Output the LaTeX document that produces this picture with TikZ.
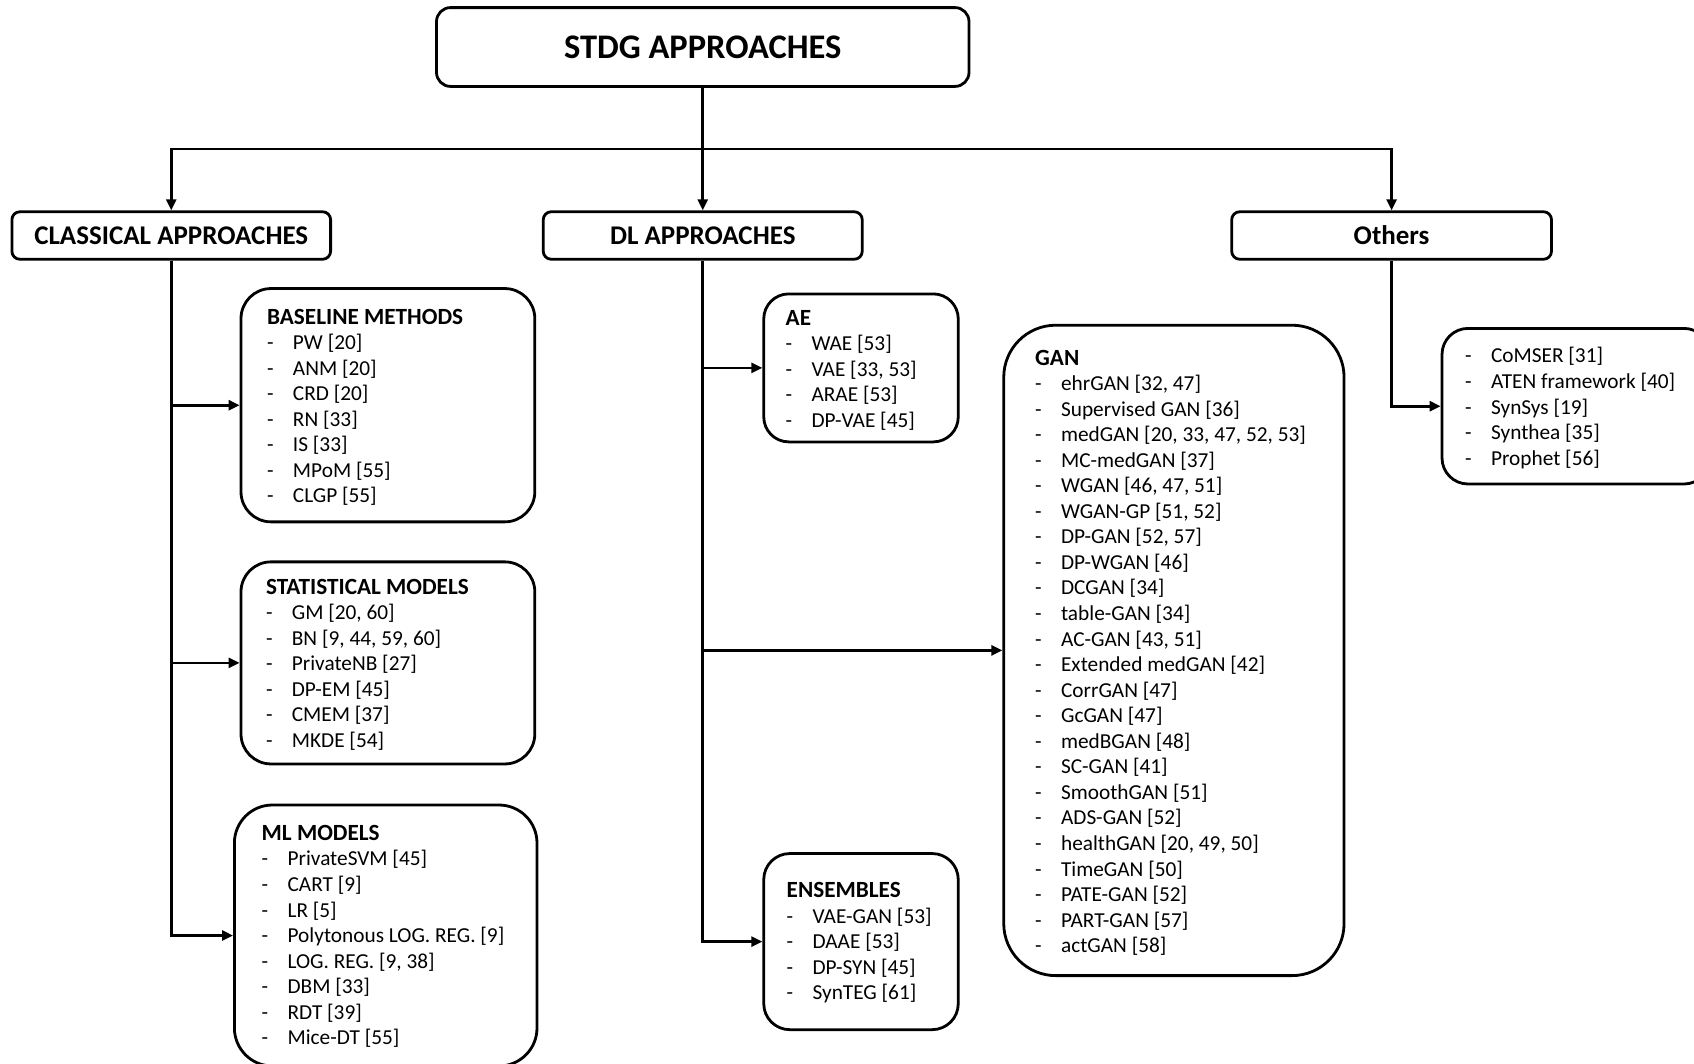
\documentclass[tikz,border=0pt]{standalone}
\usepackage{fontspec}
\setmainfont{Carlito}
\usetikzlibrary{arrows.meta}
\newcommand\itm[1]{\makebox[25.9pt][l]{-}#1}
\newcommand\hd[1]{{\fontsize{23.2}{25.55}\selectfont\bfseries #1}}
\newcommand\lst[1]{\parbox[t]{420pt}{\raggedright\fontsize{21.3}{25.55}\selectfont #1}}
\tikzset{
  box/.style={draw, line width=2.8pt, inner sep=0pt},
  txt/.style={anchor=base west, inner sep=0pt},
  arr/.style={line width=2.6pt, -{Triangle[length=11pt,width=10pt]}},
  ln/.style={line width=3.4pt},
}
\begin{document}
\begin{tikzpicture}[x=1pt,y=-1pt]
\useasboundingbox (0,0) rectangle (1694,1063);
\clip (0,0) rectangle (1694,1063);
\fill[white] (0,0) rectangle (1694,1063);

% top
\node[box, rounded corners=14pt, minimum width=532.5pt, minimum height=78.8pt,
  font=\fontsize{34.5}{40}\selectfont\bfseries] (top) at (702.75,47) {STDG APPROACHES};

% level 2
\node[box, rounded corners=8pt, minimum width=318.7pt, minimum height=47.5pt,
  font=\fontsize{27}{30}\selectfont\bfseries] (cls) at (171.25,235.5) {CLASSICAL APPROACHES};
\node[box, rounded corners=8pt, minimum width=319pt, minimum height=47.5pt,
  font=\fontsize{27}{30}\selectfont\bfseries] (dl) at (702.75,235.5) {DL APPROACHES};
\node[box, rounded corners=8pt, minimum width=319.8pt, minimum height=47.5pt,
  font=\fontsize{27}{30}\selectfont\bfseries] (oth) at (1391.6,235.5) {Others};

% classical children
\node[box, rounded corners=30pt, minimum width=293.8pt, minimum height=233.3pt] (base) at (387.9,405.2) {};
\node[box, rounded corners=30pt, minimum width=293.8pt, minimum height=202.1pt] (stat) at (387.9,662.9) {};
\node[box, rounded corners=38pt, minimum width=302.6pt, minimum height=261pt] (ml) at (385.7,935.5) {};

% DL children
\node[box, rounded corners=25pt, minimum width=194.5pt, minimum height=148pt] (ae) at (861,367.9) {};
\node[box, rounded corners=52pt, minimum width=340.3pt, minimum height=650.4pt] (gan) at (1173.9,650.4) {};
\node[box, rounded corners=26pt, minimum width=194.5pt, minimum height=176.1pt] (ens) at (861,941.6) {};

% others child
\node[box, rounded corners=26pt, minimum width=268pt, minimum height=155.6pt] (othl) at (1576,406.2) {};

% texts
\node[txt] (tbase) at (266.9,324) {\lst{\hd{BASELINE METHODS}\\
\itm{PW [20]}\\ \itm{ANM [20]}\\ \itm{CRD [20]}\\ \itm{RN [33]}\\ \itm{IS [33]}\\ \itm{MPoM [55]}\\ \itm{CLGP [55]}}};
\node[txt] (tstat) at (265.8,594.1) {\lst{\hd{STATISTICAL MODELS}\\
\itm{GM [20, 60]}\\ \itm{BN [9, 44, 59, 60]}\\ \itm{PrivateNB [27]}\\ \itm{DP-EM [45]}\\ \itm{CMEM [37]}\\ \itm{MKDE [54]}}};
\node[txt] (tml) at (261.5,840.4) {\lst{\hd{ML MODELS}\\
\itm{PrivateSVM [45]}\\ \itm{CART [9]}\\ \itm{LR [5]}\\ \itm{Polytonous LOG. REG. [9]}\\ \itm{LOG. REG. [9, 38]}\\ \itm{DBM [33]}\\ \itm{RDT [39]}\\ \itm{Mice-DT [55]}}};
\node[txt] (tae) at (785.5,325.1) {\lst{\hd{AE}\\
\itm{WAE [53]}\\ \itm{VAE [33, 53]}\\ \itm{ARAE [53]}\\ \itm{DP-VAE [45]}}};
\node[txt] (tens) at (786.5,897.7) {\lst{\hd{ENSEMBLES}\\
\itm{VAE-GAN [53]}\\ \itm{DAAE [53]}\\ \itm{DP-SYN [45]}\\ \itm{SynTEG [61]}}};
\node[txt] (tgan) at (1035,365) {\lst{\hd{GAN}\\
\itm{ehrGAN [32, 47]}\\ \itm{Supervised GAN [36]}\\ \itm{medGAN [20, 33, 47, 52, 53]}\\ \itm{MC-medGAN [37]}\\
\itm{WGAN [46, 47, 51]}\\ \itm{WGAN-GP [51, 52]}\\ \itm{DP-GAN [52, 57]}\\ \itm{DP-WGAN [46]}\\
\itm{DCGAN [34]}\\ \itm{table-GAN [34]}\\ \itm{AC-GAN [43, 51]}\\ \itm{Extended medGAN [42]}\\
\itm{CorrGAN [47]}\\ \itm{GcGAN [47]}\\ \itm{medBGAN [48]}\\ \itm{SC-GAN [41]}\\
\itm{SmoothGAN [51]}\\ \itm{ADS-GAN [52]}\\ \itm{healthGAN [20, 49, 50]}\\ \itm{TimeGAN [50]}\\
\itm{PATE-GAN [52]}\\ \itm{PART-GAN [57]}\\ \itm{actGAN [58]}}};
\node[txt] (toth) at (1465,362.9) {\lst{\itm{CoMSER [31]}\\ \itm{ATEN framework [40]}\\ \itm{SynSys [19]}\\ \itm{Synthea [35]}\\ \itm{Prophet [56]}}};

% connectors
\coordinate (j0) at (702.75,149);
\draw[ln] (top.south) -- (j0);
\draw[arr] (j0) -| (cls.north);
\draw[arr] (j0) -- (dl.north);
\draw[arr] (j0) -| (oth.north);

\draw[arr] (cls.south) |- (base.west);
\draw[arr] (cls.south) |- (stat.west);
\draw[arr] (cls.south) |- (ml.west);

\draw[arr] (dl.south) |- (ae.west);
\draw[arr] (dl.south) |- (gan.west);
\draw[arr] (dl.south) |- (ens.west);

\draw[arr] (oth.south) |- (othl.west);
\end{tikzpicture}
\end{document}
